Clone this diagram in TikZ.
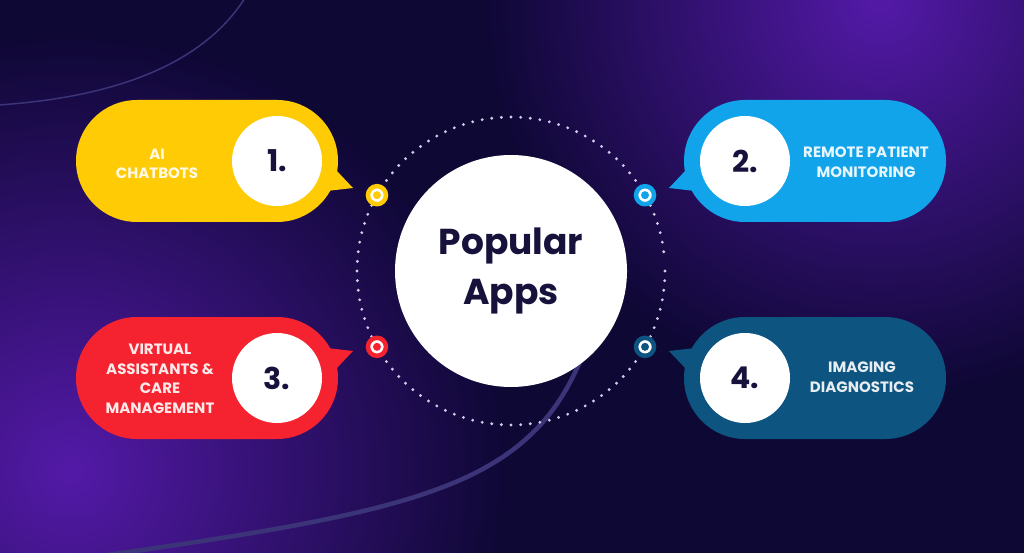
\documentclass[tikz,border=0pt]{standalone}
\usepackage{fontspec}
\setmainfont{Poppins}
\usepackage{tikz}
\usetikzlibrary{fadings}
\usetikzlibrary{positioning}
\definecolor{nightnavy}{RGB}{14, 8, 52}
\definecolor{violetglow}{RGB}{84, 26, 168}
\definecolor{tracepurple}{RGB}{60, 52, 120}
\definecolor{ringdotgray}{RGB}{208, 204, 232}
\definecolor{inkblue}{RGB}{22, 18, 60}
\definecolor{sunflower}{RGB}{255, 203, 5}
\definecolor{skyblue}{RGB}{18, 164, 234}
\definecolor{alizarin}{RGB}{245, 35, 47}
\definecolor{deepteal}{RGB}{14, 84, 128}
\tikzfading[name=glowfade, inner color=transparent!0, outer color=transparent!100]

\begin{document}
\begin{tikzpicture}[x=1pt, y=-1pt,
    hub/.style={circle, fill=white, minimum size=232pt, inner sep=0pt, align=center,
                text=inkblue, font=\fontsize{36}{50}\selectfont\bfseries},
    numdisc/.style={circle, fill=white, minimum size=90pt, inner sep=0pt,
                    text=inkblue, font=\fontsize{30}{30}\selectfont\bfseries},
    bubbletext/.style={align=center, text=white, text opacity=0.9,
                       font=\fontsize{15}{19.5}\selectfont\bfseries},
    ringpin/.style={circle, fill=white, draw=#1, line width=4.5pt, minimum size=18pt, inner sep=0pt,
                    path picture={\fill[#1] (path picture bounding box.center) circle (4pt);}}]
    % Backdrop
    \useasboundingbox (0,0) rectangle (1024,553);
    \clip (0,0) rectangle (1024,553);
    \fill[nightnavy] (0,0) rectangle (1024,553);
    \fill[violetglow, path fading=glowfade] (880,0) circle (400);
    \fill[violetglow, path fading=glowfade] (70,470) circle (440);
    % Faint traces
    \draw[tracepurple, line width=1.5pt]   (245,-2) .. controls (215,45) and (150,95) .. (-2,105);
    \draw[tracepurple, line width=4.5pt]   (600,300) .. controls (555,480) and (460,505) .. (100,556);
    % Hub and dotted ring
    \node[hub] (hub) at (511,271) {Popular\\Apps};
    \foreach \a in {0,3.6,...,356.4}
        \fill[ringdotgray] ([shift={(\a:154)}]hub.center) circle (1.6);
    % AI Chatbots
    \fill[sunflower, rounded corners=61pt] (76,100) rectangle (338,222);
    \fill[sunflower] (318,160) -- (336,170) -- (353,188) -- (318,192) -- cycle;
    \node[numdisc] (num1) at (277,161) {1.};
    \node[bubbletext] (lbl1) at (157,164) {AI\\CHATBOTS};
    % Remote patient monitoring
    \fill[skyblue, rounded corners=61pt] (684,100) rectangle (946,222);
    \fill[skyblue] (704,160) -- (686,170) -- (669,188) -- (704,192) -- cycle;
    \node[numdisc] (num2) at (745,161) {2.};
    \node[bubbletext] (lbl2) at (866,162) {REMOTE PATIENT\\MONITORING};
    % Virtual assistants
    \fill[alizarin, rounded corners=61pt] (76,317) rectangle (338,439);
    \fill[alizarin] (318,379) -- (336,369) -- (353,351) -- (318,347) -- cycle;
    \node[numdisc] (num3) at (277,378) {3.};
    \node[bubbletext] (lbl3) at (160,379) {VIRTUAL\\ASSISTANTS \&\\CARE\\MANAGEMENT};
    % Imaging diagnostics
    \fill[deepteal, rounded corners=61pt] (684,317) rectangle (946,439);
    \fill[deepteal] (704,379) -- (686,369) -- (669,351) -- (704,347) -- cycle;
    \node[numdisc] (num4) at (745,378) {4.};
    \node[bubbletext] (lbl4) at (862,377) {IMAGING\\DIAGNOSTICS};
    % Ring pins
    \node[ringpin=sunflower] (pin1) at ([shift={(209.5:154)}]hub.center) {};
    \node[ringpin=skyblue]   (pin2) at ([shift={(330.5:154)}]hub.center) {};
    \node[ringpin=alizarin]  (pin3) at ([shift={(150.5:154)}]hub.center) {};
    \node[ringpin=deepteal]  (pin4) at ([shift={(29.5:154)}]hub.center) {};
\end{tikzpicture}
\end{document}
